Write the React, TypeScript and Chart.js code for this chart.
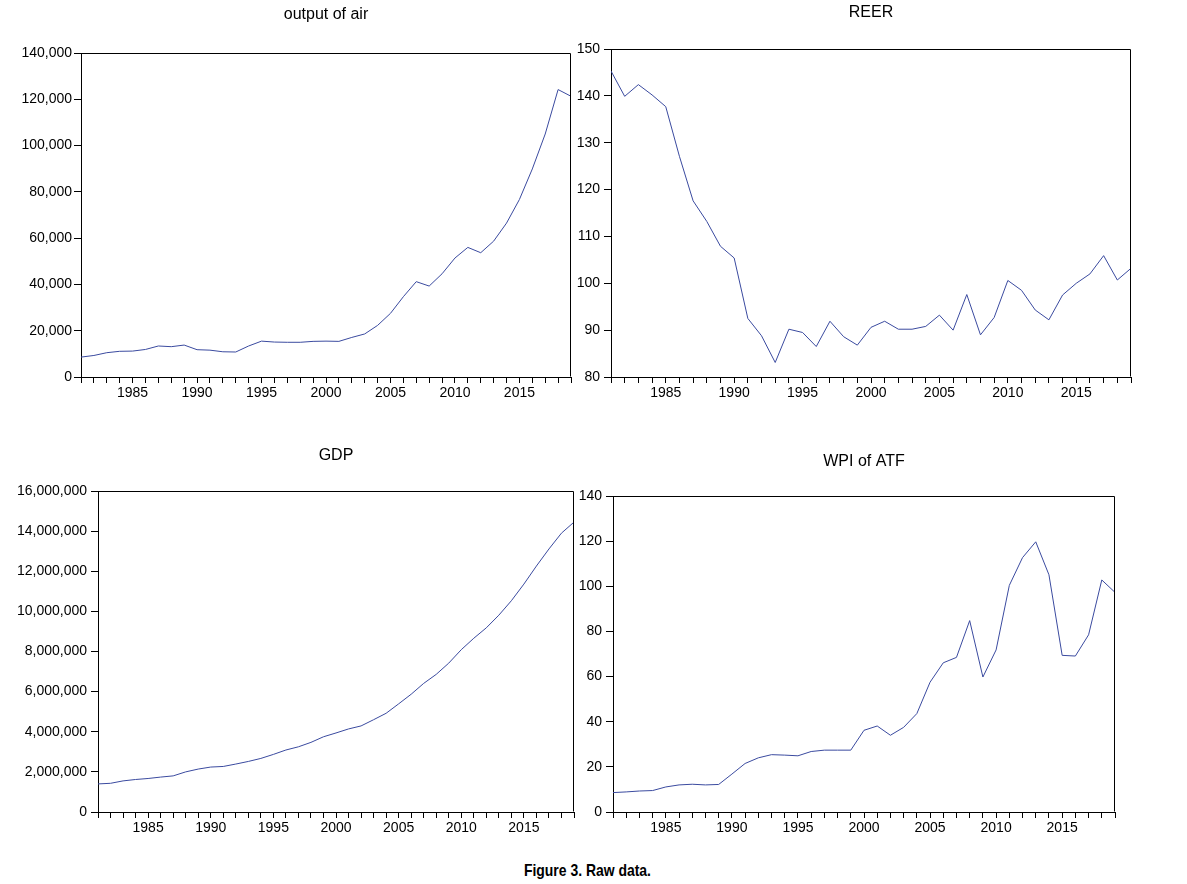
import React, { useEffect, useRef } from "react";
import { Chart, registerables } from "chart.js";

Chart.register(...registerables);

// ---------- data ----------
const years = [
  1981, 1982, 1983, 1984, 1985, 1986, 1987, 1988, 1989, 1990,
  1991, 1992, 1993, 1994, 1995, 1996, 1997, 1998, 1999, 2000,
  2001, 2002, 2003, 2004, 2005, 2006, 2007, 2008, 2009, 2010,
  2011, 2012, 2013, 2014, 2015, 2016, 2017, 2018, 2019,
];

const outputOfAir = [
  8600, 9300, 10500, 11100, 11200, 11900, 13400, 13100, 13800, 11800,
  11600, 10900, 10800, 13400, 15500, 15100, 15000, 15000, 15400, 15500,
  15400, 17100, 18600, 22300, 27500, 34700, 41200, 39300, 44600, 51400,
  56000, 53700, 58700, 66500, 76700, 89900, 105000, 124200, 121300,
];

const reer = [
  145.3, 139.9, 142.4, 140.2, 137.7, 127.1, 117.6, 113.2, 107.9, 105.4,
  92.5, 88.8, 83.1, 90.2, 89.5, 86.5, 91.9, 88.6, 86.8, 90.6,
  91.9, 90.2, 90.2, 90.8, 93.2, 90.0, 97.6, 89.0, 92.7, 100.6,
  98.5, 94.3, 92.2, 97.5, 100.0, 102.0, 105.9, 100.7, 103.2,
];

const gdp = [
  1400000, 1430000, 1550000, 1620000, 1670000, 1740000, 1800000, 2000000, 2140000, 2240000,
  2270000, 2390000, 2520000, 2670000, 2870000, 3090000, 3250000, 3470000, 3750000, 3940000,
  4140000, 4290000, 4600000, 4920000, 5390000, 5870000, 6410000, 6860000, 7420000, 8090000,
  8660000, 9180000, 9810000, 10530000, 11360000, 12260000, 13110000, 13900000, 14450000,
];

const wpiAtf = [
  8.6, 8.9, 9.3, 9.5, 11.1, 12.0, 12.3, 12.0, 12.2, 16.8,
  21.5, 24.0, 25.4, 25.2, 24.9, 26.8, 27.4, 27.4, 27.4, 36.2,
  38.1, 34.0, 37.5, 43.6, 57.5, 66.1, 68.5, 84.8, 59.8, 71.8,
  100.4, 112.7, 119.7, 105.1, 69.4, 69.1, 78.5, 102.8, 97.3,
];

const panelTitles = ["output of air", "REER", "GDP", "WPI of ATF"];
const yRanges = [
  { min: 0, max: 140000, step: 20000 },
  { min: 80, max: 150, step: 10 },
  { min: 0, max: 16000000, step: 2000000 },
  { min: 0, max: 140, step: 20 },
];
const xLabelEvery = 5;
const caption = "Figure 3. Raw data.";

// ---------- styling / layout ----------
const LINE_COLOR = "#3a4a9f";
const FONT = "'Liberation Sans', Arial, sans-serif";

type Layout = {
  left: number; top: number; width: number; height: number;
  yw: number; padTop: number; padRight: number; titleGap: number; yPad: number;
};

const layouts: Layout[] = [
  { left: 0, top: 0, width: 576, height: 407, yw: 81, padTop: 53, padRight: 5, titleGap: 34, yPad: 2 },
  { left: 570, top: 0, width: 567, height: 407, yw: 41, padTop: 49, padRight: 6, titleGap: 32, yPad: 4 },
  { left: 0, top: 430, width: 580, height: 412, yw: 98, padTop: 61, padRight: 6, titleGap: 31, yPad: 4 },
  { left: 570, top: 430, width: 551, height: 412, yw: 43, padTop: 66, padRight: 6, titleGap: 30, yPad: 4 },
];

const framePlugin = {
  id: "frame",
  afterDraw(chart: any) {
    const { ctx, chartArea: a } = chart;
    ctx.save();
    ctx.strokeStyle = "#000";
    ctx.lineWidth = 1;
    const x0 = Math.round(a.left) + 0.5;
    const y0 = Math.round(a.top) + 0.5;
    const x1 = Math.round(a.right) - 0.5;
    const y1 = Math.round(a.bottom) - 0.5;
    ctx.beginPath();
    ctx.moveTo(x0, y0);
    ctx.lineTo(x1, y0);
    ctx.lineTo(x1, y1);
    ctx.stroke();
    ctx.restore();
  },
};

function makeTitlePlugin(text: string, gap: number) {
  return {
    id: "panelTitle",
    afterDraw(chart: any) {
      const { ctx, chartArea: a } = chart;
      ctx.save();
      ctx.fillStyle = "#000";
      ctx.font = `16px ${FONT}`;
      ctx.textAlign = "center";
      ctx.textBaseline = "alphabetic";
      ctx.fillText(text, (a.left + a.right) / 2, a.top - gap);
      ctx.restore();
    },
  };
}

function Panel({ idx, values }: { idx: number; values: number[] }) {
  const ref = useRef<HTMLCanvasElement>(null);
  const L = layouts[idx];
  const R = yRanges[idx];
  useEffect(() => {
    const chart = new Chart(ref.current as HTMLCanvasElement, {
      type: "line",
      data: {
        datasets: [
          {
            data: years.map((y, i) => ({ x: y, y: values[i] })),
            borderColor: LINE_COLOR,
            borderWidth: 1,
            pointRadius: 0,
            tension: 0,
            fill: false,
          },
        ],
      },
      options: {
        animation: false,
        responsive: false,
        devicePixelRatio: 1,
        layout: { padding: { top: L.padTop, right: L.padRight, bottom: 0, left: 0 } },
        plugins: {
          legend: { display: false },
          tooltip: { enabled: false },
          title: { display: false },
        },
        scales: {
          x: {
            type: "linear",
            min: years[0],
            max: years[years.length - 1],
            offset: false,
            grid: { drawOnChartArea: false, drawTicks: true, tickLength: 6, color: "#000", lineWidth: 1 },
            border: { display: true, color: "#000", width: 1 },
            ticks: {
              stepSize: 1,
              autoSkip: false,
              maxRotation: 0,
              minRotation: 0,
              padding: 2,
              color: "#000",
              font: { family: FONT, size: 14 },
              callback: (v: any) => (Number(v) % xLabelEvery === 0 ? String(v) : ""),
            },
            afterFit: (s: any) => { s.height = 30; },
          },
          y: {
            type: "linear",
            min: R.min,
            max: R.max,
            grid: { drawOnChartArea: false, drawTicks: true, tickLength: 7, color: "#000", lineWidth: 1 },
            border: { display: true, color: "#000", width: 1 },
            ticks: {
              stepSize: R.step,
              padding: L.yPad,
              color: "#000",
              font: { family: FONT, size: 14 },
              callback: (v: any) => Number(v).toLocaleString("en-US"),
            },
            afterFit: (s: any) => { s.width = L.yw; },
          },
        },
      } as any,
      plugins: [framePlugin, makeTitlePlugin(panelTitles[idx], L.titleGap)],
    });
    return () => chart.destroy();
  }, []);
  return (
    <canvas
      ref={ref}
      width={L.width}
      height={L.height}
      style={{ position: "absolute", left: L.left, top: L.top, width: L.width, height: L.height }}
    />
  );
}

export default function App() {
  const series = [outputOfAir, reer, gdp, wpiAtf];
  return (
    <div style={{ position: "absolute", left: 0, top: 0, width: 1187, height: 884, background: "#fff", overflow: "hidden" }}>
      {series.map((s, i) => (
        <Panel key={i} idx={i} values={s} />
      ))}
      <div
        style={{
          position: "absolute",
          left: 0,
          top: 862,
          width: 1174,
          textAlign: "center",
          fontFamily: "'Liberation Sans', Arial, sans-serif",
          fontWeight: "bold",
          fontSize: 17,
          lineHeight: "17px",
          color: "#000",
        }}
      >
        <span style={{ display: "inline-block", transform: "scaleX(0.82)", transformOrigin: "center" }}>
          {caption}
        </span>
      </div>
    </div>
  );
}
